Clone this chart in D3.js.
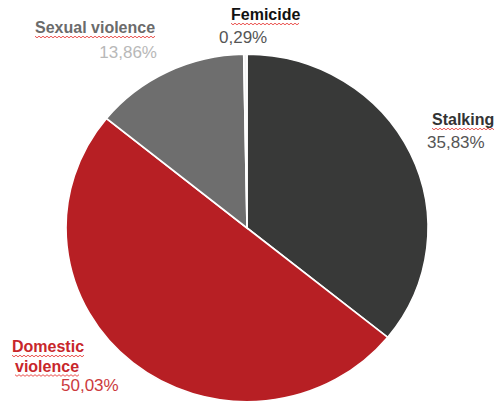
<!DOCTYPE html>
<html>
<head>
<meta charset="utf-8">
<script src="https://cdn.jsdelivr.net/npm/d3@7"></script>
<style>
  html, body { margin: 0; padding: 0; background: #fff; }
  svg { display: block; }
  text { font-family: "Liberation Sans", Arial, Helvetica, sans-serif; }
</style>
</head>
<body>
<svg id="chart" width="498" height="404"></svg>
<script>
// Share of reported cases by type of violence (%)
const categories = ["Stalking", "Domestic violence", "Sexual violence", "Femicide"];
const shares = [35.83, 50.03, 13.86, 0.29];
const sliceColors = ["#383938", "#b71f24", "#6e6e6e", "#f2f2f2"];
const titleColors = ["#333333", "#c8262b", "#6b6b6b", "#111111"];
const valueColors = ["#555555", "#cc3a3d", "#b8b8b8", "#555555"];
// Category names broken into lines for the callouts
const titleLines = [["Stalking"], ["Domestic", "violence"], ["Sexual violence"], ["Femicide"]];

const svg = d3.select("#chart");
const W = 498, H = 404;
const cx = 247, cy = 228, r = 181, yScale = 0.96;

const slices = categories.map((c, i) => ({ name: c, value: shares[i], i }));

const pie = d3.pie().sort(null).value(d => d.value);
const arc = d3.arc().innerRadius(0).outerRadius(r);

const g = svg.append("g").attr("transform", `translate(${cx},${cy}) scale(1,${yScale})`);
g.selectAll("path")
  .data(pie(slices))
  .join("path")
  .attr("d", arc)
  .attr("fill", d => sliceColors[d.data.i])
  .attr("stroke", "#ffffff")
  .attr("stroke-width", 1.6)
  .attr("vector-effect", "non-scaling-stroke");

// Callout anchor positions (title left x / anchor, baseline y) per category
const callouts = [
  { x: 432, y: 125, anchor: "start", vx: 427, vy: 148, vAnchor: "start" },
  { x: 12, y: 352, anchor: "start", vx: 61, vy: 391, vAnchor: "start", lineDx: [0, 3] },
  { x: 35, y: 33, anchor: "start", vx: 157, vy: 58, vAnchor: "end" },
  { x: 231, y: 20, anchor: "start", vx: 219, vy: 43, vAnchor: "start" }
];

const fmt = v => d3.format(".2f")(v).replace(".", ",") + "%";

// Wavy underline under a title line
function squiggle(x0, x1, y) {
  const pts = [];
  const step = 2;
  let k = 0;
  for (let x = x0; x <= x1; x += step, k++) pts.push([x, y + (k % 2 ? 1.3 : -0.3)]);
  return d3.line()(pts);
}

const labels = svg.append("g");
slices.forEach((s, i) => {
  const c = callouts[i];
  titleLines[i].forEach((line, j) => {
    const t = labels.append("text")
      .attr("x", c.x + (c.lineDx ? c.lineDx[j] : 0))
      .attr("y", c.y + j * 19.5)
      .attr("text-anchor", c.anchor)
      .attr("font-size", 16)
      .attr("font-weight", "bold")
      .attr("fill", titleColors[i])
      .text(line);
    const bb = t.node().getBBox();
    labels.append("path")
      .attr("d", squiggle(bb.x, bb.x + bb.width, c.y + j * 19.5 + 3.5))
      .attr("fill", "none")
      .attr("stroke", "#e8403c")
      .attr("stroke-width", 0.9);
  });
  labels.append("text")
    .attr("x", c.vx)
    .attr("y", c.vy)
    .attr("text-anchor", c.vAnchor)
    .attr("font-size", 17)
    .attr("fill", valueColors[i])
    .text(fmt(s.value));
});
</script>
</body>
</html>
